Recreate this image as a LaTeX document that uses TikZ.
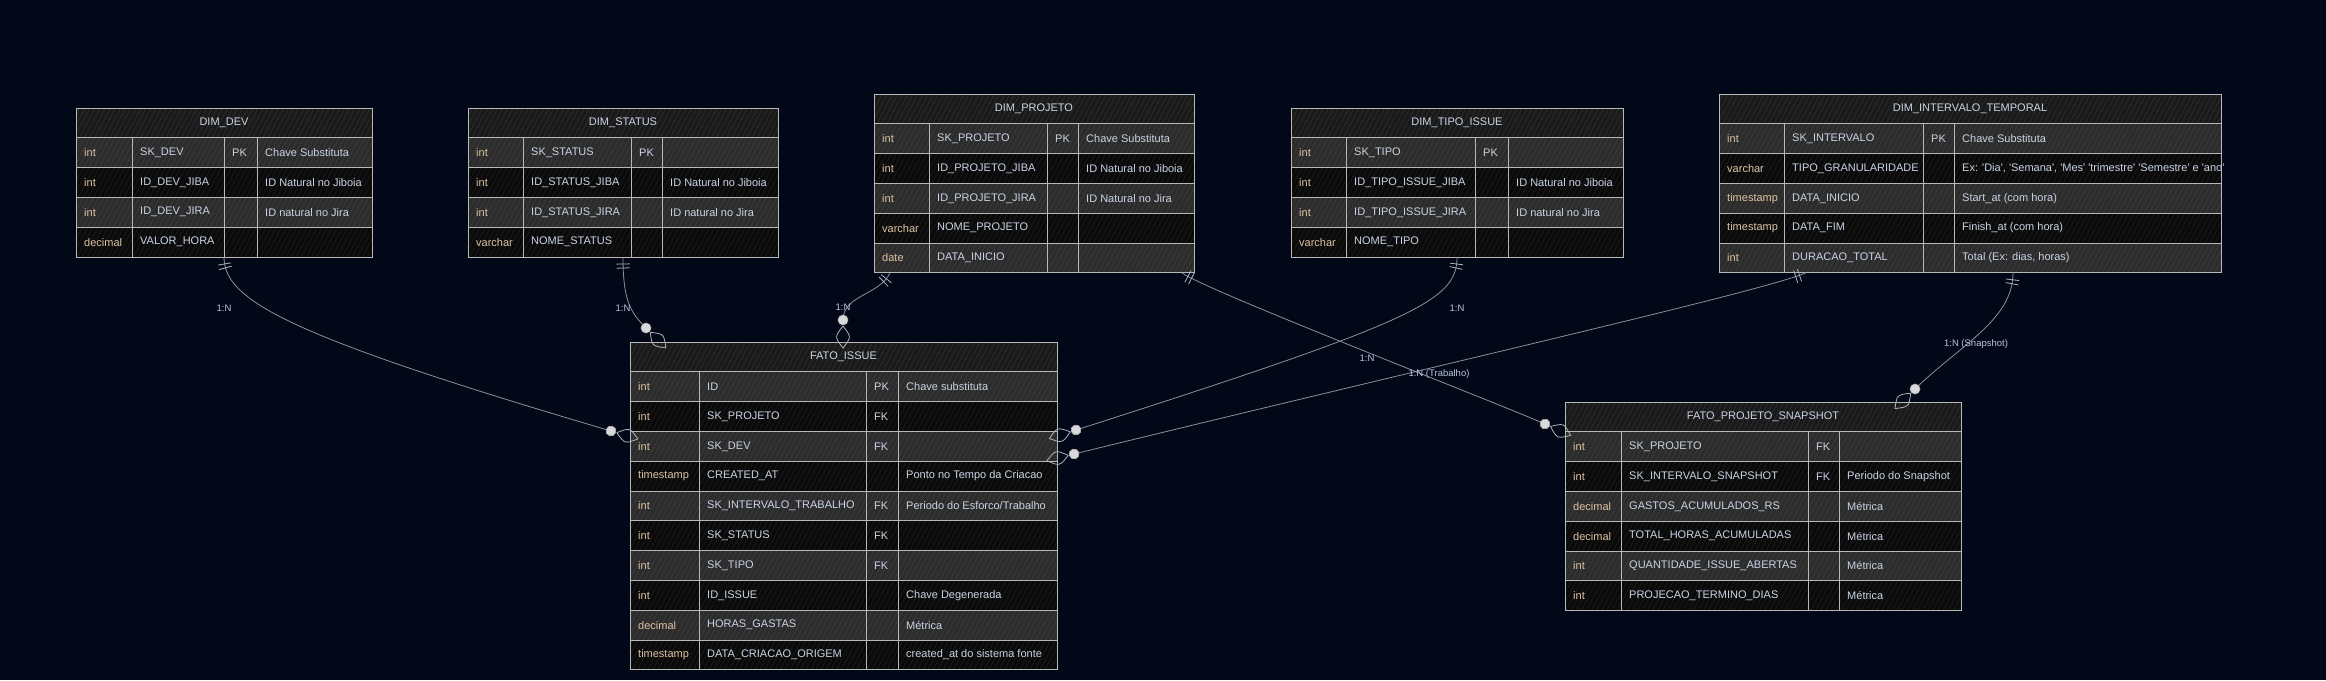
\documentclass[tikz,border=0pt]{standalone}
\usepackage{fontspec}
\setmainfont{Liberation Sans}[Ligatures=TeXOff]
\usetikzlibrary{patterns.meta,decorations.markings,fit}
\definecolor{bg}{HTML}{020817}
\definecolor{rowA}{HTML}{2C2C2C}
\definecolor{hatchA}{HTML}{3E3E3E}
\definecolor{rowB}{HTML}{0A0A0A}
\definecolor{hatchB}{HTML}{1E1E1E}
\definecolor{hdrfill}{HTML}{1A1A1A}
\definecolor{hdrhatch}{HTML}{313131}
\definecolor{gridc}{HTML}{B8B8B8}
\definecolor{typec}{HTML}{DCC4A2}
\definecolor{cellc}{HTML}{C9D4E4}
\definecolor{linec}{HTML}{8A909C}
\definecolor{markc}{HTML}{B0B4BB}
\definecolor{circf}{HTML}{D9D9D9}
\definecolor{lblc}{HTML}{B9C6DA}
\newcommand{\RH}{29.8}
\tikzset{
  grid/.style={draw=gridc, line width=0.8pt},
  hatch/.style={pattern={Lines[angle=62,distance=4.5pt,line width=0.6pt]}},
  celltext/.style={anchor=west, text=cellc, inner sep=0pt, font=\fontsize{11}{13}\selectfont},
  typetext/.style={celltext, text=typec},
  hdrtext/.style={text=cellc, inner sep=0pt, font=\fontsize{11}{13}\selectfont},
  lbl/.style={text=lblc, inner sep=0pt, font=\fontsize{9.5}{11}\selectfont},
  rel/.style={draw=linec, line width=0.8pt},
  onebars/.style={postaction={decorate, decoration={markings,
     mark=at position 7pt with {\draw[markc, line width=0.8pt] (0,-6.5) -- (0,6.5);},
     mark=at position 11pt with {\draw[markc, line width=0.8pt] (0,-6.5) -- (0,6.5);}}}},
  zmany/.style={postaction={decorate, decoration={markings,
     mark=at position 0.9999 with {\draw[markc, fill=circf, line width=0.6pt] (0,0) circle[radius=5pt];
        \draw[markc, line width=0.8pt] (6,0) .. controls (17,-8.5) .. (28,0) .. controls (17,8.5) .. (6,0);}}}},
}
% #1 name #2 x0 #3 c1 #4 c2 #5 c3 #6 x1 #7 ytop #8 title #9 rows
\newcommand{\ertab}[9]{%
  \fill[hdrfill] (#2,#7) rectangle (#6,#7+\RH);
  \fill[hatch, pattern color=hdrhatch] (#2,#7) rectangle (#6,#7+\RH);
  \node[hdrtext] at ({(#2+#6)/2},#7+\RH/2) {#8};
  \foreach[count=\i] \ty/\nm/\ky/\cm in {#9}{%
    \pgfmathsetmacro\ya{#7+\i*\RH}%
    \pgfmathsetmacro\yb{\ya+\RH}%
    \pgfmathsetmacro\ym{\ya+\RH/2}%
    \global\let\ybot\yb
    \ifodd\i \colorlet{rowf}{rowA}\colorlet{rowh}{hatchA}\else\colorlet{rowf}{rowB}\colorlet{rowh}{hatchB}\fi
    \fill[rowf] (#2,\ya) rectangle (#6,\yb);
    \fill[hatch, pattern color=rowh] (#2,\ya) rectangle (#6,\yb);
    \draw[grid] (#2,\ya) -- (#6,\ya);
    \node[typetext] at (#2+8,\ym) {\ty};
    \node[celltext] at (#3+8,\ym) {\nm};
    \node[celltext] at (#4+8,\ym) {\ky};
    \node[celltext] at (#5+8,\ym) {\cm};
  }
  \draw[grid] (#3,#7+\RH) -- (#3,\ybot);
  \draw[grid] (#4,#7+\RH) -- (#4,\ybot);
  \draw[grid] (#5,#7+\RH) -- (#5,\ybot);
  \draw[grid] (#2,#7) rectangle (#6,\ybot);
  \node[fit={(#2,#7) (#6,\ybot)}, inner sep=0pt, outer sep=0pt] (#1) {};
}
\begin{document}
\begin{tikzpicture}[x=1pt,y=-1pt]
\useasboundingbox (0,0) rectangle (2326,680);
\fill[bg] (0,0) rectangle (2326,680);

\ertab{dev}{76}{132}{224}{257}{372}{108}{DIM\_DEV}{
  int/SK\_DEV/PK/Chave Substituta,
  int/ID\_DEV\_JIBA/{}/ID Natural no Jiboia,
  int/ID\_DEV\_JIRA/{}/ID natural no Jira,
  decimal/VALOR\_HORA/{}/{}}

\ertab{status}{468}{523}{631}{662}{778}{108}{DIM\_STATUS}{
  int/SK\_STATUS/PK/{},
  int/ID\_STATUS\_JIBA/{}/ID Natural no Jiboia,
  int/ID\_STATUS\_JIRA/{}/ID natural no Jira,
  varchar/NOME\_STATUS/{}/{}}

\ertab{proj}{874}{929}{1047}{1078}{1194}{94}{DIM\_PROJETO}{
  int/SK\_PROJETO/PK/Chave Substituta,
  int/ID\_PROJETO\_JIBA/{}/ID Natural no Jiboia,
  int/ID\_PROJETO\_JIRA/{}/ID Natural no Jira,
  varchar/NOME\_PROJETO/{}/{},
  date/DATA\_INICIO/{}/{}}

\ertab{tipo}{1291}{1346}{1475}{1508}{1623}{108}{DIM\_TIPO\_ISSUE}{
  int/SK\_TIPO/PK/{},
  int/ID\_TIPO\_ISSUE\_JIBA/{}/ID Natural no Jiboia,
  int/ID\_TIPO\_ISSUE\_JIRA/{}/ID natural no Jira,
  varchar/NOME\_TIPO/{}/{}}

\ertab{intv}{1719}{1784}{1923}{1954}{2221}{94}{DIM\_INTERVALO\_TEMPORAL}{
  int/SK\_INTERVALO/PK/Chave Substituta,
  varchar/TIPO\_GRANULARIDADE/{}/{Ex: 'Dia', 'Semana', 'Mes' 'trimestre' 'Semestre' e 'ano'},
  timestamp/DATA\_INICIO/{}/Start\_at (com hora),
  timestamp/DATA\_FIM/{}/Finish\_at (com hora),
  int/DURACAO\_TOTAL/{}/{Total (Ex: dias, horas)}}

\ertab{issue}{630}{699}{866}{898}{1057}{342}{FATO\_ISSUE}{
  int/ID/PK/Chave substituta,
  int/SK\_PROJETO/FK/{},
  int/SK\_DEV/FK/{},
  timestamp/CREATED\_AT/{}/Ponto no Tempo da Criacao,
  int/SK\_INTERVALO\_TRABALHO/FK/{Periodo do Esforco/Trabalho},
  int/SK\_STATUS/FK/{},
  int/SK\_TIPO/FK/{},
  int/ID\_ISSUE/{}/Chave Degenerada,
  decimal/HORAS\_GASTAS/{}/Métrica,
  timestamp/DATA\_CRIACAO\_ORIGEM/{}/created\_at do sistema fonte}

\ertab{snap}{1565}{1621}{1808}{1839}{1961}{402}{FATO\_PROJETO\_SNAPSHOT}{
  int/SK\_PROJETO/FK/{},
  int/SK\_INTERVALO\_SNAPSHOT/FK/Periodo do Snapshot,
  decimal/GASTOS\_ACUMULADOS\_RS/{}/Métrica,
  decimal/TOTAL\_HORAS\_ACUMULADAS/{}/Métrica,
  int/QUANTIDADE\_ISSUE\_ABERTAS/{}/Métrica,
  int/PROJECAO\_TERMINO\_DIAS/{}/Métrica}

% relationships
\draw[rel, onebars, zmany] (dev.south) .. controls (224,300) and (285,335) .. ([shift={(-19,89)}]issue.north west);
\draw[rel, onebars, zmany] (status.south) .. controls (623,300) and (630,312) .. ([shift={(16,-14)}]issue.north west);
\draw[rel, onebars, zmany] ([xshift=16pt]proj.south west) .. controls (880,295) and (843,295) .. ([shift={(213,-22)}]issue.north west);
\draw[rel, onebars, zmany] (tipo.south) .. controls (1457,300) and (1420,320) .. ([shift={(19,88)}]issue.north east);
\draw[rel, onebars, zmany] ([xshift=87pt]intv.south west) .. controls (1760,292) and (1450,362) .. ([shift={(17,112)}]issue.north east);
\draw[rel, onebars, zmany] ([xshift=-12pt]proj.south east) .. controls (1200,288) and (1500,404) .. ([shift={(-20,22)}]snap.north west);
\draw[rel, onebars, zmany] ([xshift=-208pt]intv.south east) .. controls (2013,320) and (1960,345) .. ([shift={(350,-13)}]snap.north west);

% labels
\node[lbl] (l1) at (224,308) {1:N};
\node[lbl] (l2) at (623,308) {1:N};
\node[lbl] (l3) at (843,307) {1:N};
\node[lbl] (l4) at (1457,308) {1:N};
\node[lbl] (l5) at (1367,358) {1:N};
\node[lbl] (l6) at (1439,374) {1:N (Trabalho)};
\node[lbl] (l7) at (1976,344) {1:N (Snapshot)};
\end{tikzpicture}
\end{document}
